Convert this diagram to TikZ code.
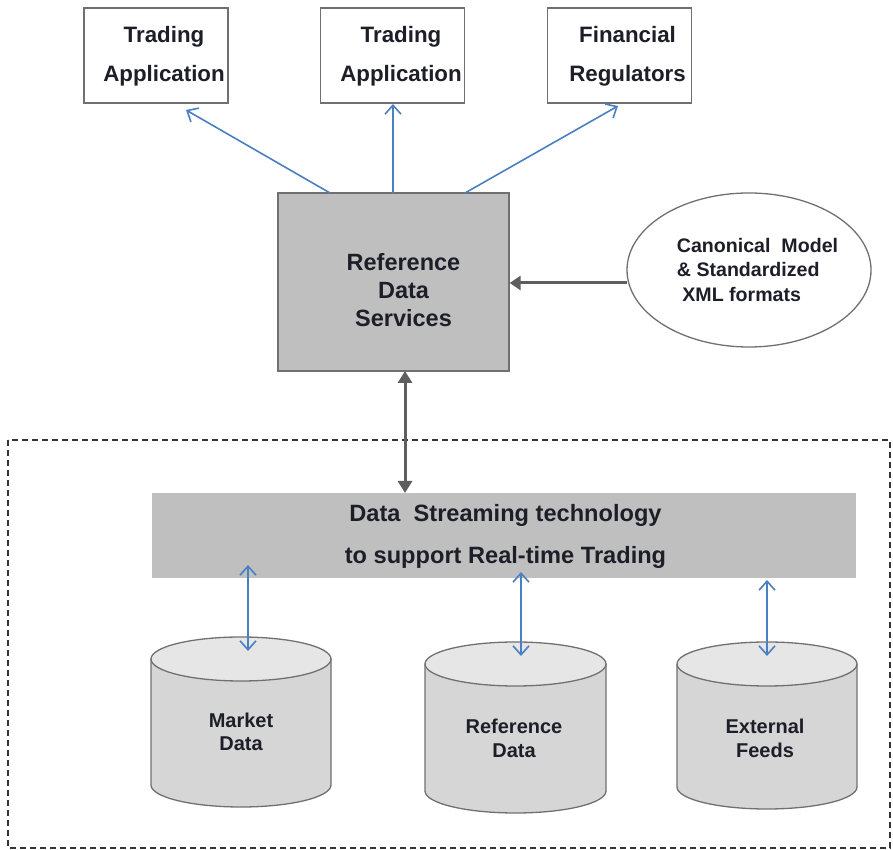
\documentclass[tikz,border=0pt]{standalone}
\usepackage{fontspec}
\setmainfont{Liberation Sans}
\usetikzlibrary{arrows.meta,shapes.geometric}
\definecolor{bluearr}{HTML}{4A7FC1}
\definecolor{grayarr}{HTML}{5E5E5E}
\definecolor{boxgray}{HTML}{BFBFBF}
\definecolor{edgegray}{HTML}{707070}
\definecolor{cylbody}{HTML}{D6D6D6}
\definecolor{cyltop}{HTML}{E6E6E6}
\definecolor{txt}{HTML}{1E1E28}
\newcommand\dbcyl[6]{% name, cx, topY, botY, rx, ry
  \fill[cylbody] (#2-#5,#3) -- (#2-#5,#4) arc[start angle=180,end angle=360,x radius=#5,y radius=#6] -- (#2+#5,#3) -- cycle;
  \draw[edgegray,line width=1.3pt] (#2-#5,#3) -- (#2-#5,#4) arc[start angle=180,end angle=360,x radius=#5,y radius=#6] -- (#2+#5,#3);
  \draw[edgegray,line width=1.3pt,fill=cyltop] (#2,#3) ellipse[x radius=#5,y radius=#6];
  \coordinate (#1) at (#2,#3);
}
\tikzset{
  topbox/.style={draw=edgegray,line width=1.3pt,fill=white,minimum width=144pt,minimum height=95pt,inner sep=0pt},
  toptext/.style={font=\fontsize{22.3}{39}\selectfont\bfseries,text=txt,align=center},
  bluetip/.tip={Straight Barb[length=9pt,width=16pt,line width=1.6pt]},
  blueline/.style={bluearr,line width=1.6pt,-bluetip},
  bluedbl/.style={bluearr,line width=1.6pt,bluetip-bluetip},
  grayline/.style={grayarr,line width=3pt,-{Triangle[length=11pt,width=14pt]}},
  graydbl/.style={grayarr,line width=3pt,{Triangle[length=12pt,width=14pt]}-{Triangle[length=12pt,width=14pt]}},
  cyltext/.style={font=\fontsize{20}{23.5}\selectfont\bfseries,text=txt,align=center},
}
\begin{document}
\begin{tikzpicture}[x=1pt,y=1pt]
\useasboundingbox (0,0) rectangle (893,850);
% dashed frame
\draw[black!80,line width=1.3pt,dash pattern=on 6pt off 4pt] (8,410) rectangle (890,2);
% top boxes
\node[topbox] (t1) at (156,794.5) {};
\node[topbox] (t2) at (392.5,794.5) {};
\node[topbox] (t3) at (619.5,794.5) {};
\node[toptext] (t1l) at (164,793.5) {Trading\\Application};
\node[toptext] (t2l) at (401,793.5) {Trading\\Application};
\node[toptext] (t3l) at (627.5,793.5) {Financial\\Regulators};
% reference data services
\node[draw=edgegray,line width=1.3pt,fill=boxgray,minimum width=231pt,minimum height=178pt,inner sep=0pt] (rds) at (393.5,568) {};
\node[font=\fontsize{23.5}{28}\selectfont\bfseries,text=txt,align=center] (rdsl) at (403.5,560) {Reference\\Data\\Services};
% canonical ellipse
\node[draw=edgegray,line width=1.3pt,fill=white,ellipse,minimum width=244pt,minimum height=154pt,inner sep=0pt] (ce) at (749,580) {};
\coordinate (cm) at (627,567);
\node[font=\fontsize{19.6}{24.5}\selectfont\bfseries,text=txt,align=left] (cml) at (757.5,580) {Canonical~ Model\\\& Standardized\\\ XML formats};
% streaming bar
\node[fill=boxgray,minimum width=704pt,minimum height=85pt,inner sep=0pt] (ds) at (504,314.5) {};
\node[font=\fontsize{23.6}{42}\selectfont\bfseries,text=txt,align=center] (dsl) at (505.5,314) {Data~ Streaming technology\\to support Real-time Trading};
% cylinders
\dbcyl{c1}{241}{191}{65}{90}{22}
\dbcyl{c2}{515.5}{186}{59}{90.5}{22}
\dbcyl{c3}{767}{186}{63}{90}{22}
\node[cyltext] (c1l) at (241,118) {Market\\Data};
\node[cyltext] (c2l) at (514,111.5) {Reference\\Data};
\node[cyltext] (c3l) at (765,111.5) {External\\Feeds};
% coordinates for connectors
\coordinate (a1s) at (330,657);
\coordinate (a1e) at (186,740);
\coordinate (a2s) at (393,657);
\coordinate (a2e) at (393,746);
\coordinate (a3s) at (465,657);
\coordinate (a3e) at (618,744);
\coordinate (vs) at (405,479);
\coordinate (ve) at (405,357);
\coordinate (d1a) at (248,285);
\coordinate (d1b) at (248,199);
\coordinate (d2a) at (521,278);
\coordinate (d2b) at (521,194);
\coordinate (d3a) at (767,270);
\coordinate (d3b) at (767,194);
% arrows
\draw[blueline] (a1s) -- (a1e);
\draw[blueline] (a2s) -- (a2e);
\draw[blueline] (a3s) -- (a3e);
\draw[grayline] (cm) -- (rds.east |- cm);
\draw[graydbl] (vs) -- (ve);
\draw[bluedbl] (d1a) -- (d1b);
\draw[bluedbl] (d2a) -- (d2b);
\draw[bluedbl] (d3a) -- (d3b);
\end{tikzpicture}
\end{document}
